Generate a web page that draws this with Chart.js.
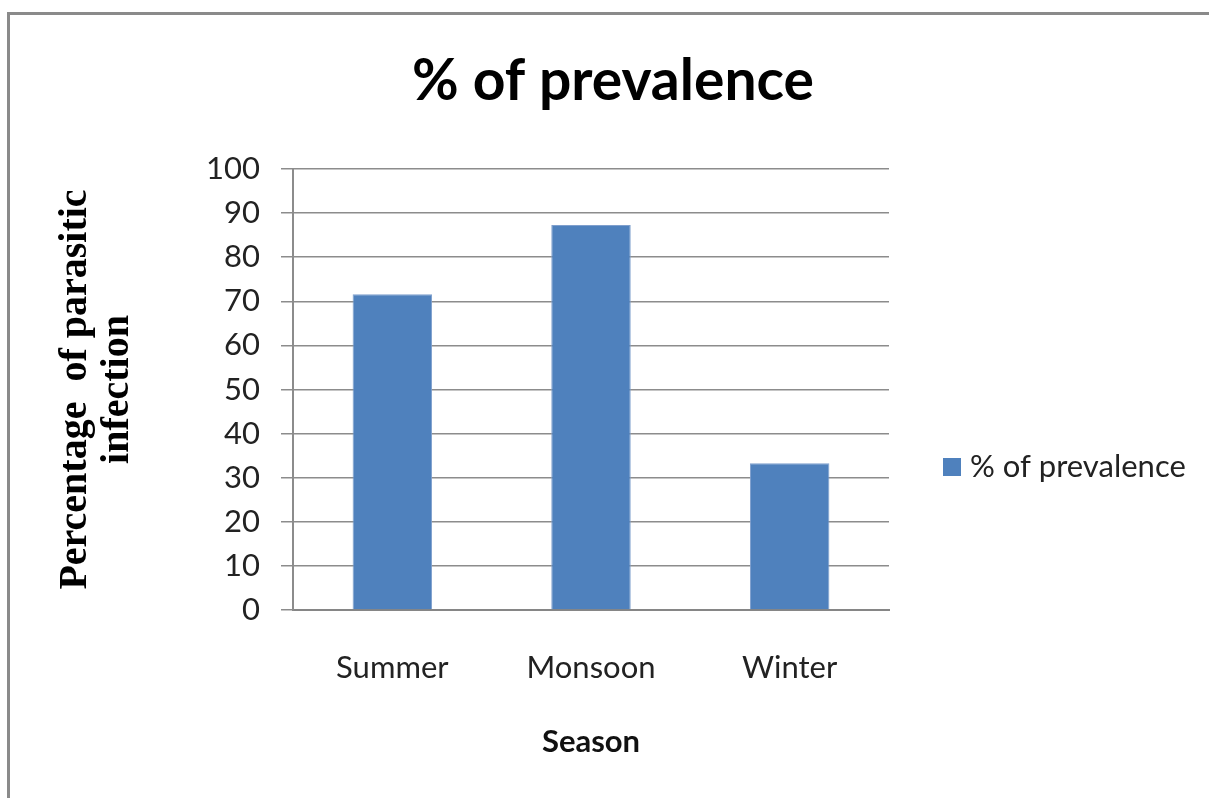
<!DOCTYPE html>
<html>
<head>
<meta charset="utf-8">
<title>% of prevalence</title>
<script src="https://cdn.jsdelivr.net/npm/chart.js@4"></script>
<style>
    html, body { margin: 0; padding: 0; background: #fff; overflow: hidden; }
    #wrap { position: relative; width: 1209px; height: 798px; }
    #frame {
        position: absolute; left: 7px; top: 12px; width: 1300px; height: 900px;
        border-top: 3px solid #8a8a8a; border-left: 3px solid #8a8a8a;
    }
    canvas { position: absolute; left: 0; top: 0; }
</style>
</head>
<body>
<div id="wrap">
    <div id="frame"></div>
    <canvas id="prevalence-chart" width="1209" height="798"></canvas>
</div>
<script>
// Seasonal prevalence data
const seasons = ["Summer", "Monsoon", "Winter"];
const prevalence = [71.6, 87.3, 33.3];
const seriesLabel = "% of prevalence";
const yTitle = ["Percentage  of parasitic", "infection"];
const xTitle = "Season";

const barBlue = "#4f81bd";
const gridGrey = "#8c8c8c";

// Title and side legend, positioned like the spreadsheet layout
const decorPlugin = {
    id: "decor",
    afterDraw(chart) {
        const ctx = chart.ctx;
        const area = chart.chartArea;
        ctx.save();
        ctx.fillStyle = "#000";
        ctx.font = "bold 57px Lato";
        ctx.textAlign = "center";
        ctx.textBaseline = "alphabetic";
        ctx.fillText(seriesLabel, 613, 100);

        // legend swatch + label
        const lx = area.right + 54;
        const ly = 467;
        ctx.fillStyle = barBlue;
        ctx.fillRect(lx, ly - 9, 18, 18);
        ctx.fillStyle = "#222";
        ctx.font = "31px Lato";
        ctx.textAlign = "left";
        ctx.textBaseline = "middle";
        ctx.fillText(chart.data.datasets[0].label, lx + 27, ly);
        ctx.restore();
    }
};

const ctx = document.getElementById("prevalence-chart").getContext("2d");
const chart = new Chart(ctx, {
    type: "bar",
    data: {
        labels: seasons,
        datasets: [
            {
                label: seriesLabel,
                data: prevalence,
                backgroundColor: barBlue,
                borderColor: "#7f9fcd",
                borderWidth: 1,
                barPercentage: 0.4,
                categoryPercentage: 1.0,
            },
        ],
    },
    options: {
        responsive: false,
        animation: false,
        layout: {
            padding: { left: 8, right: 320, top: 169, bottom: 0 },
        },
        plugins: {
            legend: { display: false },
            title: { display: false },
            tooltip: { enabled: false },
        },
        scales: {
            x: {
                grid: { display: false },
                border: { display: true, color: "#868686", width: 2 },
                ticks: {
                    color: "#222",
                    font: { family: "Lato", size: 31 },
                    padding: 31,
                },
                title: {
                    display: true,
                    text: xTitle,
                    color: "#111",
                    font: { family: "Lato", size: 31, weight: "bold" },
                    padding: { top: 0, bottom: 37 },
                },
                afterFit(scale) {
                    scale.height = 188;
                },
            },
            y: {
                min: 0,
                max: 100,
                ticks: {
                    stepSize: 10,
                    color: "#222",
                    font: { family: "Lato", size: 31 },
                    padding: 21,
                },
                grid: {
                    color: gridGrey,
                    lineWidth: 1.5,
                    tickLength: 12,
                },
                border: { display: true, color: gridGrey, width: 2 },
                title: {
                    display: true,
                    text: yTitle,
                    color: "#000",
                    font: { family: "Liberation Serif", size: 40, weight: "bold", lineHeight: 1.04 },
                    padding: { top: 47, bottom: 0 },
                },
                afterFit(scale) {
                    scale.width = 285;
                },
            },
        },
    },
    plugins: [decorPlugin],
});
</script>
</body>
</html>
